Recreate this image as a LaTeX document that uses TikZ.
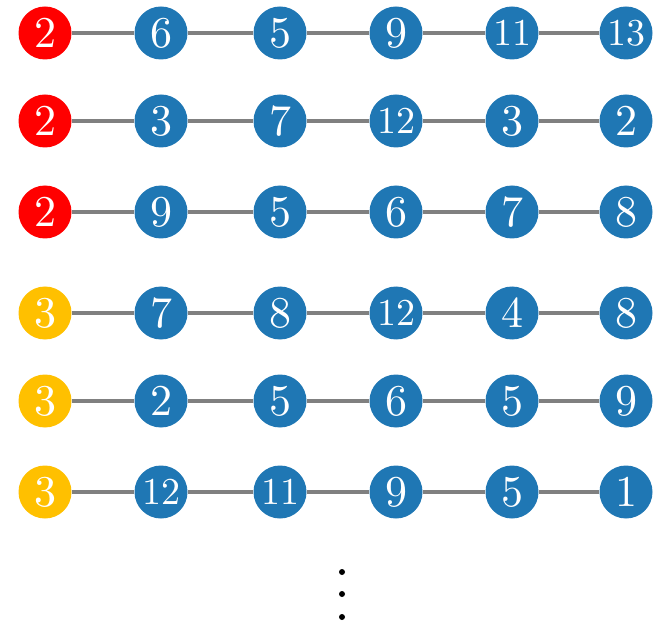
\documentclass[tikz,border=0pt]{standalone}
\usepackage{tikz}
\usepackage{xcolor}
\definecolor{hdred}{RGB}{255,0,0}
\definecolor{hdyellow}{RGB}{255,192,0}
\definecolor{nodeblue}{RGB}{31,119,180}
\definecolor{edgegray}{RGB}{128,128,128}
\font\numbig=cmr10 at 44pt
\font\numsmall=cmr10 at 38pt
\newcommand{\numlbl}[1]{\ifnum#1>9 {\numsmall#1}\else{\numbig#1}\fi}

\begin{document}
\begin{tikzpicture}[x=1pt,y=1pt,
		vtx/.style={circle,fill=#1,text=white,minimum size=53pt,inner sep=0pt},
		edg/.style={line width=4pt,edgegray},
		dot/.style={circle,fill=black,minimum size=6pt,inner sep=0pt}]
		\useasboundingbox (0,0) rectangle (661,622);
		% one row per walk, first vertex coloured
		\foreach \r/\y/\hc/\row in {1/589/hdred/{2,6,5,9,11,13},
				2/501/hdred/{2,3,7,12,3,2},
				3/410/hdred/{2,9,5,6,7,8},
				4/309/hdyellow/{3,7,8,12,4,8},
				5/221/hdyellow/{3,2,5,6,5,9},
				6/130/hdyellow/{3,12,11,9,5,1}}{
			\foreach \v [count=\i] in \row {
				\pgfmathsetmacro\xx{{45,161,280,396,512,626}[\i-1]}
				\ifnum\i=1
					\node[vtx=\hc] (n\r-\i) at (\xx,\y) {\numlbl{\v}};
				\else
					\node[vtx=nodeblue] (n\r-\i) at (\xx,\y) {\numlbl{\v}};
				\fi
			}
			\foreach \i [evaluate=\i as \j using int(\i+1)] in {1,...,5}
				\draw[edg] (n\r-\i) -- (n\r-\j);
		}
		\node[dot] (d1) at (342,50) {};
		\node[dot] (d2) at (342,28) {};
		\node[dot] (d3) at (342,5) {};
\end{tikzpicture}
\end{document}
